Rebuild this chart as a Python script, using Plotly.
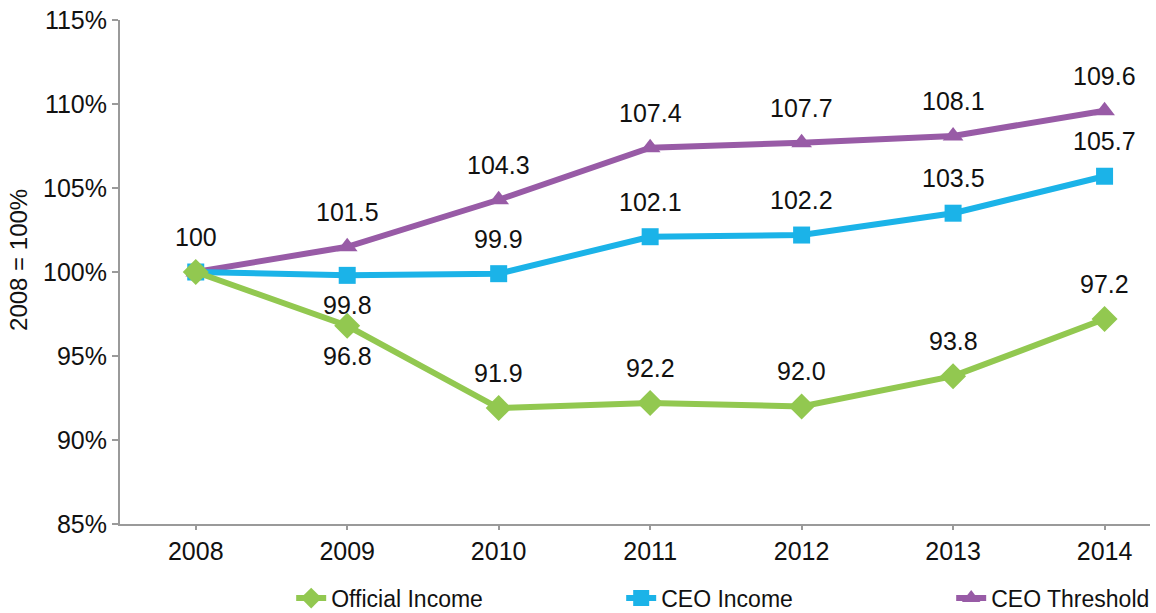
import plotly.graph_objects as go

years = [2008, 2009, 2010, 2011, 2012, 2013, 2014]
official_income = [100, 96.8, 91.9, 92.2, 92.0, 93.8, 97.2]
ceo_income = [100, 99.8, 99.9, 102.1, 102.2, 103.5, 105.7]
ceo_threshold = [100, 101.5, 104.3, 107.4, 107.7, 108.1, 109.6]

# label placement per point: 1 = above, -1 = below, 0 = hidden
official_lbl = [0, -1, 1, 1, 1, 1, 1]
income_lbl = [1, -1, 1, 1, 1, 1, 1]
threshold_lbl = [0, 1, 1, 1, 1, 1, 1]

y_ticks = [85, 90, 95, 100, 105, 110, 115]
y_tick_text = [f"{v}%" for v in y_ticks]

GREEN = "#92C850"
BLUE = "#1BB3E8"
PURPLE = "#985BA6"
FONT = "Liberation Sans, Arial, sans-serif"

fig = go.Figure()
fig.add_trace(go.Scatter(x=years, y=ceo_threshold, name="CEO Threshold", mode="lines+markers",
                         line=dict(color=PURPLE, width=6),
                         marker=dict(symbol="triangle-up", size=18, color=PURPLE)))
fig.add_trace(go.Scatter(x=years, y=ceo_income, name="CEO Income", mode="lines+markers",
                         line=dict(color=BLUE, width=6),
                         marker=dict(symbol="square", size=17, color=BLUE)))
fig.add_trace(go.Scatter(x=years, y=official_income, name="Official Income", mode="lines+markers",
                         line=dict(color=GREEN, width=6),
                         marker=dict(symbol="diamond", size=20, color=GREEN)))

def fmt(v):
    return "100" if v == 100 else f"{v:.1f}"

annotations = []
for vals, pos in [(official_income, official_lbl), (ceo_income, income_lbl), (ceo_threshold, threshold_lbl)]:
    for x, v, p in zip(years, vals, pos):
        if p == 0:
            continue
        annotations.append(dict(x=x, y=v, xref="x", yref="y", text=fmt(v), showarrow=False,
                                yshift=35 if p > 0 else -30,
                                font=dict(family=FONT, size=25, color="#111111")))

annotations.append(dict(x=-0.098, y=0.524, xref="paper", yref="paper", text="2008 = 100%",
                        textangle=-90, showarrow=False, xanchor="center", yanchor="middle",
                        font=dict(family=FONT, size=24, color="#111111")))

fig.update_layout(
    width=1156, height=613,
    margin=dict(l=120, r=6, t=20, b=89, autoexpand=False),
    paper_bgcolor="white", plot_bgcolor="white",
    font=dict(family=FONT, size=25, color="#111111"),
    showlegend=True,
    legend=dict(orientation="h", x=0.1662, xanchor="left", y=-0.147, yanchor="middle",
                traceorder="reversed", entrywidth=285, entrywidthmode="pixels",
                font=dict(family=FONT, size=23, color="#111111"), itemwidth=30),
    annotations=annotations,
)
fig.update_xaxes(range=[2007.5, 2014.3], tickvals=years, ticktext=[str(y) for y in years],
                 showgrid=False, zeroline=False, showline=True, linecolor="#9A9A9A", linewidth=2,
                 ticks="outside", ticklen=4, tickcolor="#9A9A9A", tickwidth=2,
                 tickfont=dict(family=FONT, size=25, color="#111111"))
fig.update_yaxes(range=[85, 115], tickvals=y_ticks, ticktext=y_tick_text,
                 ticklabeloverflow="allow",
                 showgrid=False, zeroline=False, showline=True, linecolor="#9A9A9A", linewidth=2,
                 ticks="outside", ticklen=6, tickcolor="#9A9A9A", tickwidth=2,
                 tickfont=dict(family=FONT, size=25, color="#111111"))

fig.write_html("out.html", config={"displayModeBar": False},
               post_script="document.body.style.margin='0';")
